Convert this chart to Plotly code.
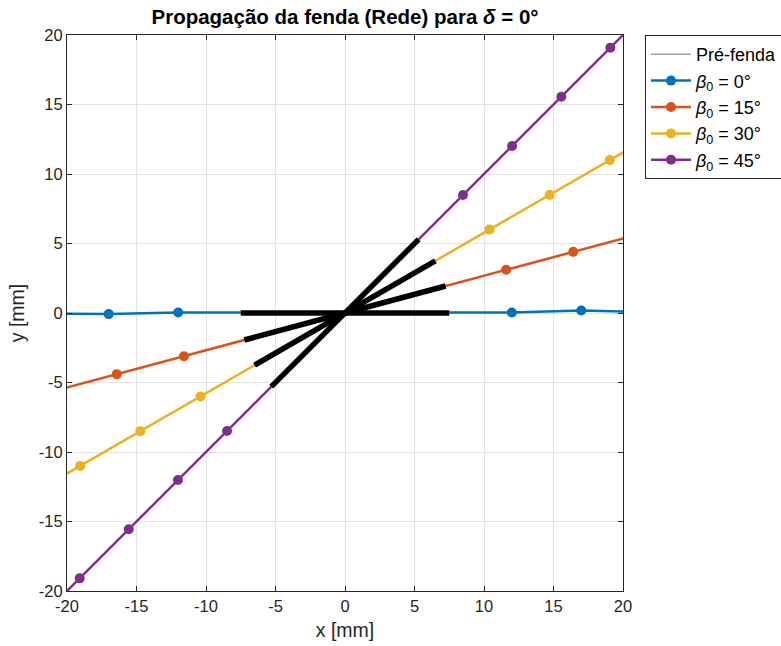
import plotly.graph_objects as go

# Pre-crack half-length (mm) and orientation of each pre-crack
pre_crack_angles = [0, 15, 30, 45]
pre_tip_x = [7.50, 7.24, 6.50, 5.30]
pre_tip_y = [0.00, 1.94, 3.75, 5.30]

# Propagated crack paths (mm), one list per initial angle beta0
beta_labels = ["0°", "15°", "30°", "45°"]
colors = ["#0072BD", "#D95319", "#EDB120", "#7E2F8E"]

x_b0 = [-22.0, -17.0, -12.0, 12.0, 17.0, 22.0]
y_b0 = [-0.05, -0.08, 0.04, 0.03, 0.18, 0.05]

x_b15 = [-21.25, -16.42, -11.59, 11.59, 16.42, 21.25]
y_b15 = [-5.69, -4.40, -3.11, 3.11, 4.40, 5.69]

x_b30 = [-23.38, -19.05, -14.72, -10.39, 10.39, 14.72, 19.05, 23.38]
y_b30 = [-13.50, -11.00, -8.50, -6.00, 6.00, 8.50, 11.00, 13.50]

x_b45 = [-22.63, -19.09, -15.56, -12.02, -8.49, 8.49, 12.02, 15.56, 19.09, 22.63]
y_b45 = [-22.63, -19.09, -15.56, -12.02, -8.49, 8.49, 12.02, 15.56, 19.09, 22.63]

paths_x = [x_b0, x_b15, x_b30, x_b45]
paths_y = [y_b0, y_b15, y_b30, y_b45]

ticks = [-20, -15, -10, -5, 0, 5, 10, 15, 20]

FONT = "'Liberation Sans', Arial, sans-serif"
INK = "#262626"

fig = go.Figure()

for lab, col, px, py, rank in zip(beta_labels, colors, paths_x, paths_y, [2, 3, 4, 5]):
    fig.add_trace(go.Scatter(
        x=px, y=py, mode="lines+markers",
        line=dict(color=col, width=2.5),
        marker=dict(color=col, size=10),
        name=f"<i>β</i><sub>0</sub> = {lab}",
        legendrank=rank,
    ))

# Pre-crack segments, from tip to tip through the origin
seg_x, seg_y = [], []
for tx, ty in zip(pre_tip_x, pre_tip_y):
    seg_x += [-tx, tx, None]
    seg_y += [-ty, ty, None]

fig.add_trace(go.Scatter(
    x=seg_x, y=seg_y, mode="lines",
    line=dict(color="#a0a0a0", width=1.5),
    name="Pré-fenda", legendrank=1,
))
fig.add_trace(go.Scatter(
    x=seg_x, y=seg_y, mode="lines",
    line=dict(color="black", width=5.5),
    showlegend=False, hoverinfo="skip",
))

axis_common = dict(
    range=[-20, 20], tickvals=ticks, ticktext=[str(t) if t >= 0 else f"-{-t}" for t in ticks],
    showgrid=True, gridcolor="#e3e3e3", gridwidth=1,
    zeroline=False, showline=True, linecolor=INK, linewidth=1,
    mirror="ticks", ticks="inside", ticklen=5, tickcolor=INK,
    tickfont=dict(family=FONT, size=16.5, color=INK),
)

fig.update_layout(
    width=781, height=646,
    margin=dict(l=67, r=158, t=35, b=55, autoexpand=False),
    paper_bgcolor="white", plot_bgcolor="white",
    title=dict(
        text="<b>Propagação da fenda (Rede) para <i>δ</i> = 0°</b>",
        x=(67 + 623) / 2 / 781, xanchor="center",
        y=1 - 17 / 646, yanchor="middle",
        font=dict(family=FONT, size=20.5, color="black"),
    ),
    xaxis=dict(axis_common, title=dict(text="x [mm]", font=dict(family=FONT, size=19.5, color=INK), standoff=9)),
    yaxis=dict(axis_common, title=dict(text="y [mm]", font=dict(family=FONT, size=19.5, color=INK), standoff=9)),
    legend=dict(
        x=(645 - 67) / 556, y=1.0, xanchor="left", yanchor="top",
        bordercolor=INK, borderwidth=1, bgcolor="white",
        font=dict(family=FONT, size=18, color="black"),
        itemwidth=40, tracegroupgap=4,
    ),
    showlegend=True,
)

fig.write_html("out.html")
